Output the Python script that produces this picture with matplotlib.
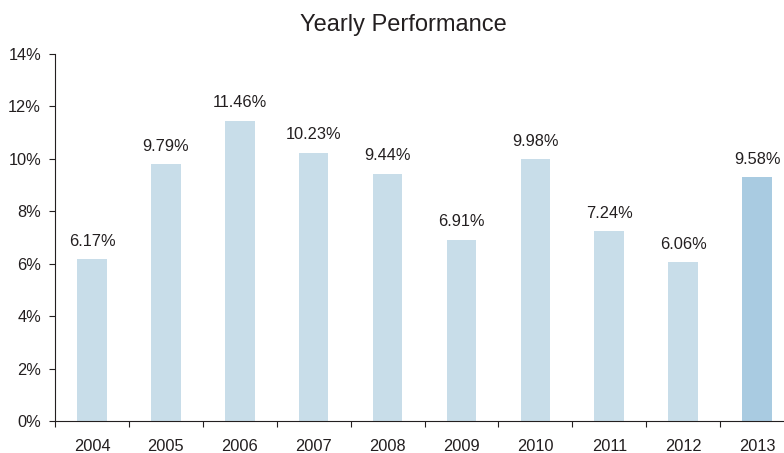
import matplotlib
matplotlib.use('Agg')
import matplotlib.pyplot as plt
import numpy as np

plt.rcParams['font.family'] = ['Liberation Sans', 'DejaVu Sans']

years = ['2004', '2005', '2006', '2007', '2008', '2009', '2010', '2011', '2012', '2013']
heights = [6.17, 9.79, 11.46, 10.23, 9.44, 6.91, 9.98, 7.24, 6.06, 9.3]   # bar heights as drawn
labels = ['6.17%', '9.79%', '11.46%', '10.23%', '9.44%', '6.91%', '9.98%', '7.24%', '6.06%', '9.58%']
yticks = [0, 2, 4, 6, 8, 10, 12, 14]

txt = '#231f20'
fs = 11.8
fig = plt.figure(figsize=(7.84, 4.53), dpi=100)
ax = fig.add_axes([55/784, 1-421/453, 739/784, (421-54)/453])

x = np.arange(len(years))
cols = ['#c8dde9'] * (len(years) - 1) + ['#a9cbe1']
ax.bar(x, heights, width=0.4, color=cols)
for xi, h, lab in zip(x, heights, labels):
    ax.text(xi, h + 0.4, lab, ha='center', va='bottom', fontsize=fs, color=txt)

ax.set_xlim(-0.5, len(years) - 0.5)
ax.set_ylim(0, 14)
ax.set_yticks(yticks)
ax.set_yticklabels([f'{t}%' for t in yticks])
ax.set_xticks(np.arange(len(years) + 1) - 0.5)
ax.set_xticklabels([])
ax.set_xticks(x, minor=True)
ax.set_xticklabels(years, minor=True)
ax.tick_params(axis='x', which='major', length=4, color=txt, direction='out')
ax.tick_params(axis='x', which='minor', length=0, pad=13, labelsize=fs, labelcolor=txt)
ax.tick_params(axis='y', length=4, color=txt, labelsize=fs, labelcolor=txt, pad=6)

for s in ['top', 'right']:
    ax.spines[s].set_visible(False)
for s in ['left', 'bottom']:
    ax.spines[s].set_color(txt)
    ax.spines[s].set_linewidth(0.8)

fig.text(0.514, 0.944, 'Yearly Performance', ha='center', va='center', fontsize=17, color=txt)

fig.savefig('out.png', dpi=100)
